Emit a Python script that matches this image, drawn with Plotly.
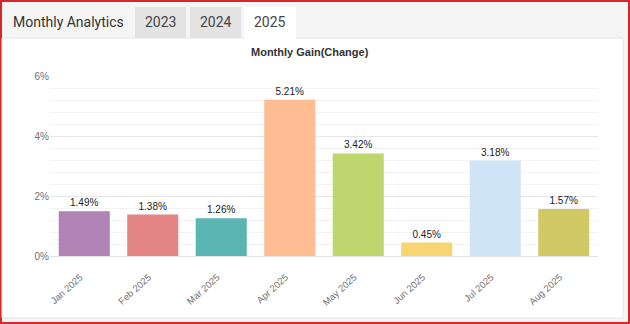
import plotly.graph_objects as go

months = ["Jan 2025", "Feb 2025", "Mar 2025", "Apr 2025", "May 2025", "Jun 2025", "Jul 2025", "Aug 2025"]
gains = [1.49, 1.38, 1.26, 5.21, 3.42, 0.45, 3.18, 1.57]
colors = ["#b283b5", "#e38585", "#5bb5b3", "#ffbd93", "#bdd66e", "#f7d573", "#cfe4f7", "#d1c866"]
tabs = ["2023", "2024", "2025"]
title_text = "Monthly Gain(Change)"
header_text = "Monthly Analytics"

W, H = 630, 324
ML, MR, MT, MB = 50, 32, 76, 68
PW, PH = W - ML - MR, H - MT - MB


def px(x):
    return (x - ML) / PW


def py(y):
    return (H - MB - y) / PH


def rect(x0, y0, x1, y1, fill, line=None, lw=0):
    return dict(type="rect", xref="paper", yref="paper", layer="below",
                x0=px(x0), x1=px(x1), y0=py(y1), y1=py(y0),
                fillcolor=fill, line=dict(color=line or fill, width=lw))


fig = go.Figure()
fig.add_trace(go.Bar(
    x=months, y=gains, marker=dict(color=colors, line=dict(width=0)),
    text=[f"{v:.2f}%" for v in gains], textposition="outside",
    textfont=dict(family="Liberation Sans, Arial", size=10, color="#222"),
    cliponaxis=False, hoverinfo="skip",
))

shapes = [
    rect(0, 0, W, H, "#d9262b"),
    rect(2, 2, 628, 322, "#f5f5f5"),
    rect(2, 38, 623, 318, "#ffffff", "#e6e6e6", 1),
    rect(135, 7, 186, 38, "#e3e3e3"),
    rect(190, 7, 241, 38, "#e3e3e3"),
    rect(244, 7, 296, 39, "#ffffff"),
]

annotations = [
    dict(text=header_text, x=px(11), y=py(22), xref="paper", yref="paper",
         xanchor="left", yanchor="middle", showarrow=False,
         font=dict(family="Roboto", size=14, color="#333")),
    dict(text="<b>" + title_text + "</b>", x=px(310), y=py(52), xref="paper", yref="paper",
         xanchor="center", yanchor="middle", showarrow=False,
         font=dict(family="Liberation Sans, Arial", size=11, color="#333")),
]
for t, cx in zip(tabs, [160.5, 215.5, 270]):
    annotations.append(dict(text=t, x=px(cx), y=py(22), xref="paper", yref="paper",
                            xanchor="center", yanchor="middle", showarrow=False,
                            font=dict(family="Roboto", size=14, color="#444")))

fig.update_layout(
    width=W, height=H, margin=dict(l=ML, r=MR, t=MT, b=MB),
    paper_bgcolor="#ffffff", plot_bgcolor="rgba(0,0,0,0)",
    bargap=0.255, showlegend=False, shapes=shapes, annotations=annotations,
    font=dict(family="Liberation Sans, Arial", size=10, color="#666"),
)
fig.update_xaxes(showgrid=False, showline=False, ticks="", tickangle=-42,
                 ticklabelstandoff=13, ticklabelshift=-4,
                 tickfont=dict(size=9.5, color="#707070"), fixedrange=True)
fig.update_yaxes(range=[0, 6], dtick=2, ticksuffix="%", showgrid=True,
                 gridcolor="#e6e6e6", gridwidth=1, zeroline=True, zerolinecolor="#e2e2e2",
                 zerolinewidth=1, showline=False, ticks="",
                 tickfont=dict(size=10, color="#707070"),
                 minor=dict(dtick=0.4, showgrid=True, gridcolor="#f3f3f3", gridwidth=1),
                 fixedrange=True)

fig.write_html("out.html", config={"displayModeBar": False})
